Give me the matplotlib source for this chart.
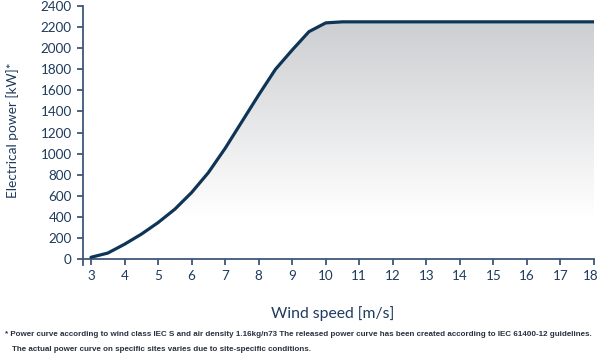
import matplotlib
matplotlib.use('Agg')
import matplotlib.pyplot as plt
import matplotlib.transforms as mtransforms
import numpy as np

wind_speed = [3, 3.5, 4, 4.5, 5, 5.5, 6, 6.5, 7, 7.5, 8, 8.5, 9, 9.5, 10, 10.5,
              11, 12, 13, 14, 15, 16, 17, 18]
power_kw = [18, 58, 142, 237, 347, 474, 632, 821, 1051, 1304, 1557, 1800, 1983,
            2157, 2240, 2250, 2250, 2250, 2250, 2250, 2250, 2250, 2250, 2250]
x_ticks = list(range(3, 19))
y_ticks = list(range(0, 2401, 200))

navy = '#0f3556'
text_col = '#1f3b5e'
spine_col = '#3e5878'

plt.rcParams['font.family'] = ['Lato', 'DejaVu Sans']

fig = plt.figure(figsize=(6, 3.64), dpi=100)
ax = fig.add_axes([0.1383, 0.272, 0.8517, 0.7115])

# gradient fill under the curve
poly = ax.fill_between(wind_speed, power_kw, 0, color='none')
grad = np.linspace(0, 1, 256).reshape(-1, 1)
cmap = matplotlib.colors.LinearSegmentedColormap.from_list(
    'g', [(0, '#ffffff'), (0.18, '#ffffff'), (1, '#cdced1')])
img = ax.imshow(grad, cmap=cmap, aspect='auto', origin='lower',
                extent=[3, 18, 0, 2250], zorder=1)
img.set_clip_path(poly.get_paths()[0], transform=ax.transData)

ax.plot(wind_speed, power_kw, color=navy, lw=2.3, solid_capstyle='round', zorder=3)

ax.set_xlim(2.76, 18)
ax.set_ylim(-55, 2400)
ax.set_xticks(x_ticks)
ax.set_yticks(y_ticks)
ax.spines['top'].set_visible(False)
ax.spines['right'].set_visible(False)
ax.spines['bottom'].set_position(('data', 0))
for s in ['left', 'bottom']:
    ax.spines[s].set_color(spine_col)
    ax.spines[s].set_linewidth(1.3)
ax.tick_params(axis='both', colors=spine_col, width=1.3, length=4,
               labelcolor=text_col, labelsize=9.7)
ax.tick_params(axis='x', pad=4)
ax.tick_params(axis='y', pad=4)

# nudge the last x label so it stays inside the figure
last = ax.get_xticklabels()[-1]
last.set_transform(last.get_transform() +
                   mtransforms.ScaledTranslation(-3 / 100, 0, fig.dpi_scale_trans))

fig.text(0.555, 0.14, 'Wind speed [m/s]', ha='center', va='center',
         fontsize=11.3, color=text_col)
fig.text(0.021, 0.643, 'Electrical power [kW]*', ha='center', va='center',
         rotation=90, fontsize=9.8, color=text_col)

fig.text(0.008, 0.082,
         '* Power curve according to wind class IEC S and air density 1.16kg/n73 '
         'The released power curve has been created according to IEC 61400-12 guidelines.',
         fontsize=5.8, fontweight='bold', color='#2b3040', family='Liberation Sans',
         va='center')
fig.text(0.02, 0.041,
         'The actual power curve on specific sites varies due to site-specific conditions.',
         fontsize=5.8, fontweight='bold', color='#2b3040', family='Liberation Sans',
         va='center')

fig.savefig('out.png', dpi=100)
